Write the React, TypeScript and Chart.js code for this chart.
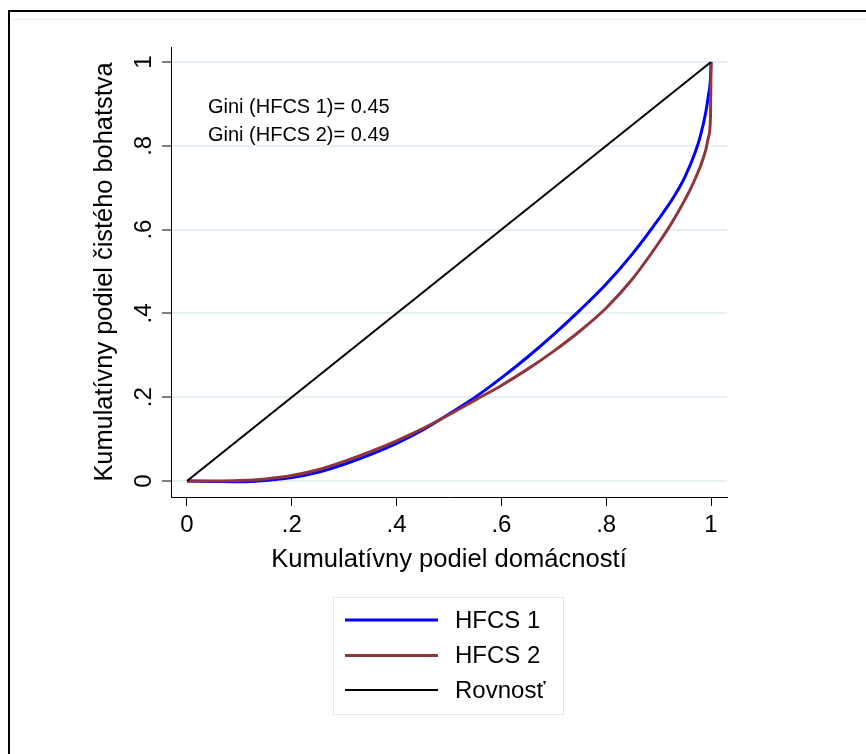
import React, { useEffect, useRef } from "react";
import { Chart, registerables } from "chart.js";

Chart.register(...registerables);

const FONT = "'Liberation Sans', Arial, Helvetica, sans-serif";

// Cumulative share of households (x) and cumulative share of net wealth (y)
const shareHFCS1 = [0, 0.05, 0.1, 0.15, 0.2, 0.25, 0.3, 0.35, 0.4, 0.45, 0.5, 0.55, 0.6, 0.65, 0.7, 0.75, 0.8, 0.85, 0.9, 0.93, 0.95, 0.97, 0.98, 0.99, 0.995, 0.999, 1];
const wealthHFCS1 = [0, -0.001, -0.002, 0.001, 0.008, 0.021, 0.04, 0.063, 0.09, 0.122, 0.16, 0.2, 0.246, 0.296, 0.35, 0.408, 0.47, 0.542, 0.625, 0.68, 0.725, 0.785, 0.825, 0.88, 0.92, 0.962, 1];

const shareHFCS2 = [0, 0.05, 0.1, 0.15, 0.2, 0.25, 0.3, 0.35, 0.4, 0.45, 0.5, 0.55, 0.6, 0.65, 0.7, 0.75, 0.8, 0.85, 0.9, 0.92, 0.94, 0.96, 0.97, 0.98, 0.99, 0.995, 0.999, 1];
const wealthHFCS2 = [0, 0.0, 0.001, 0.005, 0.013, 0.027, 0.047, 0.07, 0.096, 0.125, 0.158, 0.193, 0.228, 0.267, 0.31, 0.358, 0.413, 0.482, 0.568, 0.606, 0.648, 0.695, 0.722, 0.752, 0.79, 0.82, 0.87, 1];

const shareEquality = [0, 1];
const wealthEquality = [0, 1];

const seriesNames = ["HFCS 1", "HFCS 2", "Rovnosť"];
const seriesColors = ["#0000ff", "#90353b", "#000000"];
const seriesWidths = [3, 3, 2];

const tickValues = [0, 0.2, 0.4, 0.6, 0.8, 1];
const tickLabels = ["0", ".2", ".4", ".6", ".8", "1"];

const giniLabels = ["Gini (HFCS 1)= 0.45", "Gini (HFCS 2)= 0.49"];
const xTitle = "Kumulatívny podiel domácností";
const yTitle = "Kumulatívny podiel čistého bohatstva";

const toPoints = (xs: number[], ys: number[]) => xs.map((x, i) => ({ x, y: ys[i] }));

const decorPlugin = {
  id: "decor",
  beforeDraw(chart: any) {
    const ctx = chart.ctx;
    ctx.save();
    ctx.fillStyle = "#ffffff";
    ctx.fillRect(0, 0, chart.width, chart.height);
    ctx.strokeStyle = "#000000";
    ctx.lineWidth = 2;
    ctx.beginPath();
    ctx.moveTo(9, 800);
    ctx.lineTo(9, 11);
    ctx.lineTo(900, 11);
    ctx.stroke();
    ctx.strokeStyle = "#e4ecee";
    ctx.lineWidth = 1;
    ctx.beginPath();
    ctx.moveTo(12, 19.5);
    ctx.lineTo(866, 19.5);
    ctx.stroke();
    ctx.restore();
  },
  afterDraw(chart: any) {
    const ctx = chart.ctx;
    const xs = chart.scales.x;
    const ys = chart.scales.y;
    ctx.save();
    // Gini annotations
    ctx.font = `20px ${FONT}`;
    ctx.fillStyle = "#000";
    ctx.textAlign = "left";
    ctx.textBaseline = "middle";
    const giniY = [0.891, 0.824];
    giniLabels.forEach((t, i) => {
      ctx.fillText(t, xs.getPixelForValue(0.04), ys.getPixelForValue(giniY[i]));
    });
    // Legend
    const bx = 333.5, by = 597.5, bw = 230, bh = 117;
    ctx.strokeStyle = "#dde8ea";
    ctx.lineWidth = 1;
    ctx.strokeRect(bx, by, bw, bh);
    ctx.font = `24px ${FONT}`;
    const rows = [620, 655.5, 690];
    chart.data.datasets.forEach((ds: any, i: number) => {
      ctx.strokeStyle = ds.borderColor;
      ctx.lineWidth = ds.borderWidth;
      ctx.beginPath();
      ctx.moveTo(345, rows[i]);
      ctx.lineTo(438, rows[i]);
      ctx.stroke();
      ctx.fillStyle = "#000";
      ctx.fillText(ds.label, 455, rows[i] + 1);
    });
    ctx.restore();
  },
};

export default function App() {
  const ref = useRef<HTMLCanvasElement | null>(null);

  useEffect(() => {
    if (!ref.current) return;
    const setTicks = (s: any) => {
      s.ticks = tickValues.map((v) => ({ value: v }));
    };
    const chart = new Chart(ref.current, {
      type: "line",
      data: {
        datasets: [
          {
            label: seriesNames[0],
            data: toPoints(shareHFCS1, wealthHFCS1),
            borderColor: seriesColors[0],
            borderWidth: seriesWidths[0],
            pointRadius: 0,
            cubicInterpolationMode: "monotone",
            order: 3,
          },
          {
            label: seriesNames[1],
            data: toPoints(shareHFCS2, wealthHFCS2),
            borderColor: seriesColors[1],
            borderWidth: seriesWidths[1],
            pointRadius: 0,
            cubicInterpolationMode: "monotone",
            order: 2,
          },
          {
            label: seriesNames[2],
            data: toPoints(shareEquality, wealthEquality),
            borderColor: seriesColors[2],
            borderWidth: seriesWidths[2],
            pointRadius: 0,
            order: 1,
          },
        ],
      } as any,
      options: {
        responsive: false,
        animation: false,
        devicePixelRatio: 1,
        layout: { padding: { left: 80, top: 47, right: 139, bottom: 177 } },
        plugins: { legend: { display: false }, tooltip: { enabled: false } },
        scales: {
          x: {
            type: "linear",
            min: -0.0305,
            max: 1.0305,
            afterBuildTicks: setTicks,
            afterFit: (s: any) => {
              s.height = 80;
            },
            ticks: {
              callback: (_v: any, i: number) => tickLabels[i],
              font: { size: 24, family: FONT },
              color: "#000",
              padding: 5,
              minRotation: 0,
              maxRotation: 0,
              autoSkip: false,
            },
            grid: {
              drawOnChartArea: false,
              drawTicks: true,
              tickLength: 9,
              tickColor: "#000",
              tickWidth: 1,
            },
            border: { display: true, color: "#000", width: 1 },
            title: {
              display: true,
              text: xTitle,
              font: { size: 25.6, family: FONT },
              color: "#000",
              padding: { top: 0, bottom: 2 },
            },
          },
          y: {
            type: "linear",
            min: -0.0382,
            max: 1.0358,
            afterBuildTicks: setTicks,
            afterFit: (s: any) => {
              s.width = 91;
            },
            ticks: {
              callback: (_v: any, i: number) => tickLabels[i],
              font: { size: 24, family: FONT },
              color: "#000",
              padding: 8,
              minRotation: 90,
              maxRotation: 90,
              crossAlign: "center",
              autoSkip: false,
            },
            grid: {
              color: "#e6eff1",
              lineWidth: 2,
              drawTicks: true,
              tickLength: 9,
              tickColor: "#000",
              tickWidth: 1,
            },
            border: { display: true, color: "#000", width: 1 },
            title: {
              display: true,
              text: yTitle,
              font: { size: 25.4, family: FONT },
              color: "#000",
              padding: { top: 10, bottom: 0 },
            },
          },
        },
      } as any,
      plugins: [decorPlugin],
    });
    return () => chart.destroy();
  }, []);

  return (
    <div style={{ position: "absolute", left: 0, top: 0, width: 866, height: 754 }}>
      <canvas ref={ref} width={866} height={754} style={{ width: 866, height: 754, display: "block" }} />
    </div>
  );
}
